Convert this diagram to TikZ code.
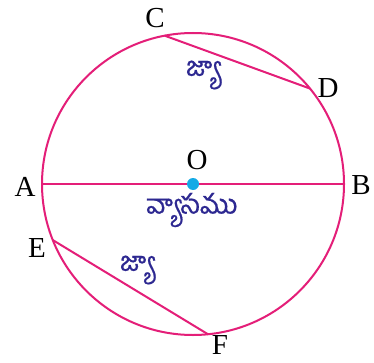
\documentclass[tikz,border=0pt]{standalone}
\usepackage{fontspec}
\setmainfont{Liberation Serif}
\newfontfamily\telugu[Script=Telugu,FakeBold=0.6]{Hind Guntur}
\definecolor{mag}{RGB}{228,30,120}
\definecolor{ink}{RGB}{45,40,145}
\definecolor{dotc}{RGB}{20,170,230}
\begin{document}
\begin{tikzpicture}[x=1pt,y=1pt,
  lbl/.style={font=\fontsize{29}{31}\selectfont, inner sep=0pt},
  tl/.style={font=\telugu\fontsize{27}{30}\selectfont, text=ink, inner sep=0pt},
  ln/.style={draw=mag, line width=2pt}]
\useasboundingbox[fill=white] (0,0) rectangle (374,362);
\begin{scope}[shift={(193,178)}]
  \coordinate (O) at (0,0);
  \coordinate (A) at (180:151);
  \coordinate (B) at (0:151);
  \coordinate (C) at (100.8:151);
  \coordinate (D) at (39.2:151);
  \coordinate (E) at (201.8:151);
  \coordinate (F) at (275.7:151);
\end{scope}
\draw[ln] (O) circle (151);
\draw[ln] (A) -- (B);
\draw[ln] (C) -- (D);
\draw[ln] (E) -- (F);
\fill[dotc] (O) circle (6);
\node[lbl] (lA) at (25,175) {A};
\node[lbl] (lB) at (361,177) {B};
\node[lbl] (lC) at (155,344) {C};
\node[lbl] (lD) at (328,274) {D};
\node[lbl] (lE) at (37,114) {E};
\node[lbl] (lF) at (220,17) {F};
\node[lbl] (lO) at (197,202) {O};
\node[tl] (t1) at (203,287) {జ్యా};
\node[tl] (t2) at (137,92) {జ్యా};
\node[tl] (t3) at (192,152) {వ్యాసము};
\end{tikzpicture}
\end{document}
